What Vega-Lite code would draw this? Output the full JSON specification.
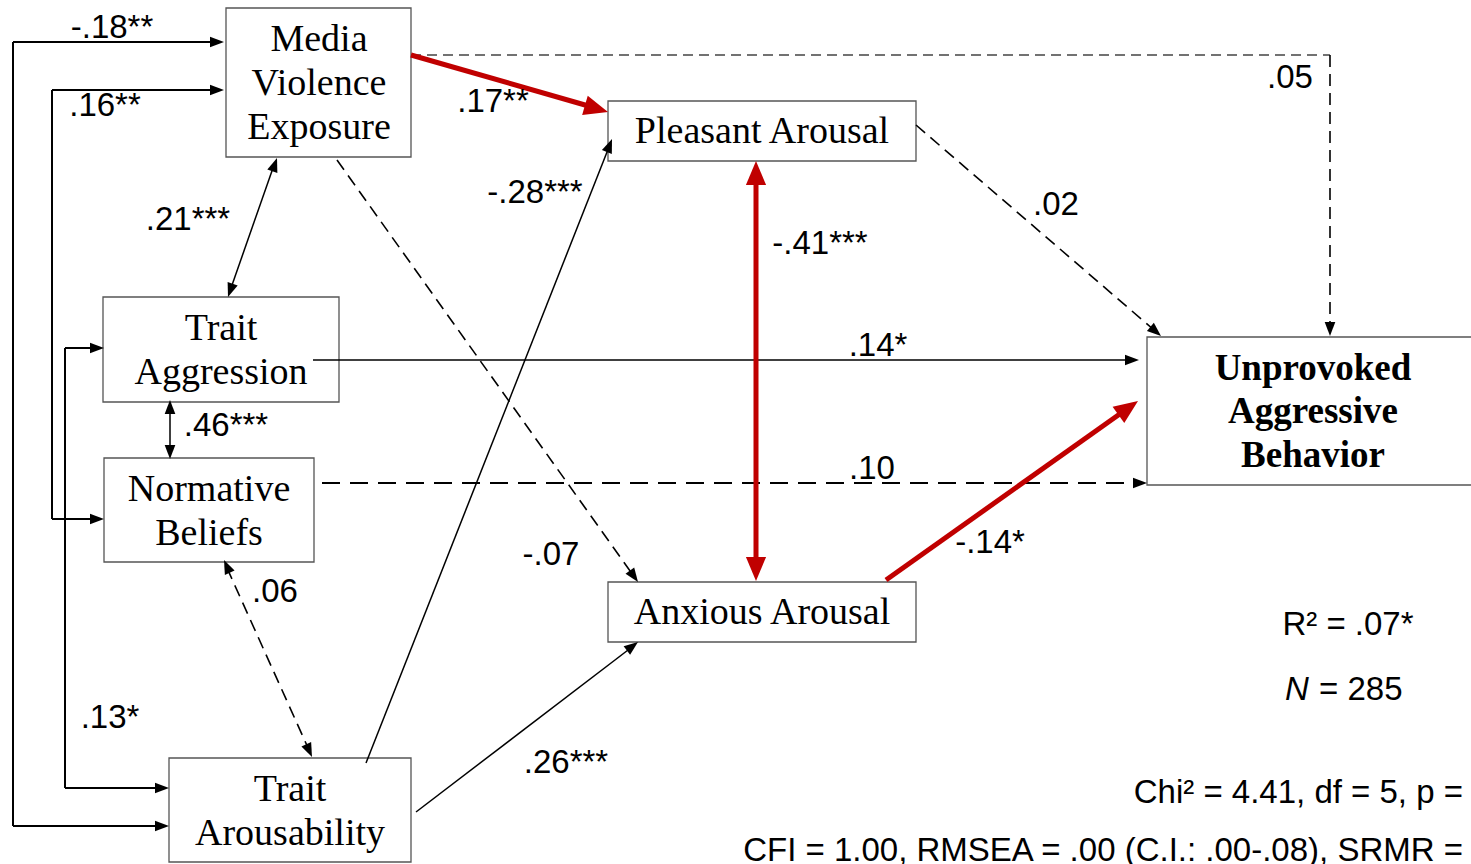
{
  "$schema": "https://vega.github.io/schema/vega-lite/v6.json",
  "width": 1471,
  "height": 864,
  "autosize": "none",
  "padding": 0,
  "background": "white",
  "config": {"view": {"stroke": null}},
  "datasets": {
    "boxes": [
      {"name": "Media Violence Exposure", "x": 226, "x2": 411, "y": 8, "y2": 157},
      {"name": "Pleasant Arousal", "x": 608, "x2": 916, "y": 101, "y2": 161},
      {"name": "Trait Aggression", "x": 103, "x2": 339, "y": 297, "y2": 402},
      {"name": "Normative Beliefs", "x": 104, "x2": 314, "y": 458, "y2": 562},
      {"name": "Trait Arousability", "x": 169, "x2": 411, "y": 758, "y2": 862},
      {"name": "Anxious Arousal", "x": 608, "x2": 916, "y": 582, "y2": 642},
      {"name": "Unprovoked Aggressive Behavior", "x": 1147, "x2": 1490, "y": 337, "y2": 485}
    ],
    "edges": [
      {"kind": "solid", "x": 13, "y": 42, "x2": 13, "y2": 826},
      {"kind": "solid", "x": 13, "y": 42, "x2": 214, "y2": 42},
      {"kind": "solid", "x": 13, "y": 826, "x2": 160, "y2": 826},
      {"kind": "solid", "x": 52, "y": 90, "x2": 52, "y2": 519},
      {"kind": "solid", "x": 52, "y": 90, "x2": 214, "y2": 90},
      {"kind": "solid", "x": 52, "y": 519, "x2": 95, "y2": 519},
      {"kind": "solid", "x": 65, "y": 348, "x2": 65, "y2": 788},
      {"kind": "solid", "x": 65, "y": 348, "x2": 95, "y2": 348},
      {"kind": "solid", "x": 65, "y": 788, "x2": 160, "y2": 788},
      {"kind": "thin", "x": 273, "y": 168, "x2": 231, "y2": 288},
      {"kind": "thin", "x": 170, "y": 410, "x2": 170, "y2": 450},
      {"kind": "thin", "x": 366, "y": 763, "x2": 609, "y2": 147},
      {"kind": "thin", "x": 416, "y": 812, "x2": 632, "y2": 647},
      {"kind": "thin", "x": 313, "y": 360, "x2": 1130, "y2": 360},
      {"kind": "dashgray", "x": 411, "y": 55, "x2": 1330, "y2": 55},
      {"kind": "dash", "x": 1330, "y": 55, "x2": 1330, "y2": 326},
      {"kind": "dash", "x": 337, "y": 160, "x2": 633, "y2": 575},
      {"kind": "dash", "x": 916, "y": 125, "x2": 1154, "y2": 330},
      {"kind": "dash", "x": 227, "y": 568, "x2": 309, "y2": 750},
      {"kind": "dashlong", "x": 322, "y": 483, "x2": 1138, "y2": 483},
      {"kind": "red", "x": 411, "y": 55, "x2": 592, "y2": 107},
      {"kind": "red", "x": 756, "y": 180, "x2": 756, "y2": 562},
      {"kind": "red", "x": 886, "y": 580, "x2": 1124, "y2": 411}
    ],
    "heads": [
      {"kind": "thin", "x": 224, "y": 42, "angle": 90},
      {"kind": "thin", "x": 224, "y": 90, "angle": 90},
      {"kind": "thin", "x": 104, "y": 348, "angle": 90},
      {"kind": "thin", "x": 104, "y": 519, "angle": 90},
      {"kind": "thin", "x": 169, "y": 788, "angle": 90},
      {"kind": "thin", "x": 169, "y": 826, "angle": 90},
      {"kind": "thin", "x": 277, "y": 158, "angle": 19.4},
      {"kind": "thin", "x": 228, "y": 297, "angle": 199.4},
      {"kind": "thin", "x": 170, "y": 400, "angle": 0},
      {"kind": "thin", "x": 170, "y": 459, "angle": 180},
      {"kind": "thin", "x": 224, "y": 560, "angle": 335.9},
      {"kind": "thin", "x": 312, "y": 757, "angle": 155.9},
      {"kind": "thin", "x": 638, "y": 582, "angle": 144.5},
      {"kind": "thin", "x": 612, "y": 139, "angle": 21.5},
      {"kind": "thin", "x": 638, "y": 642, "angle": 52.6},
      {"kind": "thin", "x": 1161, "y": 336, "angle": 130.7},
      {"kind": "thin", "x": 1330, "y": 336, "angle": 180},
      {"kind": "thin", "x": 1139, "y": 360, "angle": 90},
      {"kind": "thin", "x": 1147, "y": 483, "angle": 90},
      {"kind": "red", "x": 608, "y": 112, "angle": 106.1},
      {"kind": "red", "x": 756, "y": 161, "angle": 0},
      {"kind": "red", "x": 756, "y": 581, "angle": 180},
      {"kind": "red", "x": 1138, "y": 401, "angle": 54.6}
    ],
    "texts": [
      {"kind": "coef", "x": 112, "y": 28, "text": "-.18**"},
      {"kind": "coef", "x": 105, "y": 106, "text": ".16**"},
      {"kind": "coef", "x": 188, "y": 220, "text": ".21***"},
      {"kind": "coef", "x": 226, "y": 426, "text": ".46***"},
      {"kind": "coef", "x": 275, "y": 592, "text": ".06"},
      {"kind": "coef", "x": 110, "y": 718, "text": ".13*"},
      {"kind": "coef", "x": 493, "y": 102, "text": ".17**"},
      {"kind": "coef", "x": 535, "y": 193, "text": "-.28***"},
      {"kind": "coef", "x": 551, "y": 555, "text": "-.07"},
      {"kind": "coef", "x": 566, "y": 763, "text": ".26***"},
      {"kind": "coef", "x": 820, "y": 244, "text": "-.41***"},
      {"kind": "coef", "x": 1056, "y": 205, "text": ".02"},
      {"kind": "coef", "x": 1290, "y": 78, "text": ".05"},
      {"kind": "coef", "x": 878, "y": 346, "text": ".14*"},
      {"kind": "coef", "x": 872, "y": 469, "text": ".10"},
      {"kind": "coef", "x": 990, "y": 543, "text": "-.14*"},
      {"kind": "coef", "x": 1348, "y": 625, "text": "R² = .07*"},
      {"kind": "italic", "x": 1297, "y": 690, "text": "N"},
      {"kind": "coefleft", "x": 1319, "y": 690, "text": "= 285"},
      {"kind": "right", "x": 1463, "y": 793, "text": "Chi² = 4.41, df = 5, p ="},
      {"kind": "right", "x": 1463, "y": 851, "text": "CFI = 1.00, RMSEA = .00 (C.I.: .00-.08), SRMR ="},
      {"kind": "serif", "x": 319, "y": 40, "text": "Media"},
      {"kind": "serif", "x": 319, "y": 84, "text": "Violence"},
      {"kind": "serif", "x": 319, "y": 128, "text": "Exposure"},
      {"kind": "serif", "x": 762, "y": 132, "text": "Pleasant Arousal"},
      {"kind": "serif", "x": 221, "y": 329, "text": "Trait"},
      {"kind": "serif", "x": 221, "y": 373, "text": "Aggression"},
      {"kind": "serif", "x": 209, "y": 490, "text": "Normative"},
      {"kind": "serif", "x": 209, "y": 534, "text": "Beliefs"},
      {"kind": "serif", "x": 290, "y": 790, "text": "Trait"},
      {"kind": "serif", "x": 290, "y": 834, "text": "Arousability"},
      {"kind": "serif", "x": 762, "y": 613, "text": "Anxious Arousal"},
      {"kind": "bold", "x": 1313, "y": 369, "text": "Unprovoked"},
      {"kind": "bold", "x": 1313, "y": 412, "text": "Aggressive"},
      {"kind": "bold", "x": 1313, "y": 456, "text": "Behavior"}
    ]
  },
  "encoding": {
    "x": {"field": "x", "type": "quantitative", "scale": {"domain": [0, 1471], "nice": false, "zero": false}, "axis": null},
    "y": {"field": "y", "type": "quantitative", "scale": {"domain": [0, 864], "nice": false, "zero": false, "reverse": true}, "axis": null}
  },
  "layer": [
    {
      "data": {"name": "boxes"},
      "mark": {"type": "rect", "fill": "white", "stroke": "#555555", "strokeWidth": 1.3},
      "encoding": {"x2": {"field": "x2"}, "y2": {"field": "y2"}}
    },
    {
      "data": {"name": "edges"},
      "transform": [{"filter": "datum.kind === 'solid'"}],
      "mark": {"type": "rule", "color": "black", "strokeWidth": 2},
      "encoding": {"x2": {"field": "x2"}, "y2": {"field": "y2"}}
    },
    {
      "data": {"name": "edges"},
      "transform": [{"filter": "datum.kind === 'thin'"}],
      "mark": {"type": "rule", "color": "black", "strokeWidth": 1.5},
      "encoding": {"x2": {"field": "x2"}, "y2": {"field": "y2"}}
    },
    {
      "data": {"name": "edges"},
      "transform": [{"filter": "datum.kind === 'dashgray'"}],
      "mark": {"type": "rule", "color": "#444444", "strokeWidth": 1.5, "strokeDash": [10, 6]},
      "encoding": {"x2": {"field": "x2"}, "y2": {"field": "y2"}}
    },
    {
      "data": {"name": "edges"},
      "transform": [{"filter": "datum.kind === 'dash'"}],
      "mark": {"type": "rule", "color": "black", "strokeWidth": 1.6, "strokeDash": [12, 7]},
      "encoding": {"x2": {"field": "x2"}, "y2": {"field": "y2"}}
    },
    {
      "data": {"name": "edges"},
      "transform": [{"filter": "datum.kind === 'dashlong'"}],
      "mark": {"type": "rule", "color": "black", "strokeWidth": 2, "strokeDash": [18, 10]},
      "encoding": {"x2": {"field": "x2"}, "y2": {"field": "y2"}}
    },
    {
      "data": {"name": "edges"},
      "transform": [{"filter": "datum.kind === 'red'"}],
      "mark": {"type": "rule", "color": "#c00000", "strokeWidth": 5},
      "encoding": {"x2": {"field": "x2"}, "y2": {"field": "y2"}}
    },
    {
      "data": {"name": "heads"},
      "transform": [{"filter": "datum.kind === 'thin'"}],
      "mark": {"type": "point", "shape": "M0,0L-0.38,1L0.38,1Z", "size": 784, "filled": true, "opacity": 1, "color": "black", "strokeWidth": 0},
      "encoding": {"angle": {"field": "angle", "type": "quantitative", "scale": null}}
    },
    {
      "data": {"name": "heads"},
      "transform": [{"filter": "datum.kind === 'red'"}],
      "mark": {"type": "point", "shape": "M0,0L-0.42,1L0.42,1Z", "size": 2304, "filled": true, "opacity": 1, "color": "#c00000", "strokeWidth": 0},
      "encoding": {"angle": {"field": "angle", "type": "quantitative", "scale": null}}
    },
    {
      "data": {"name": "texts"},
      "transform": [{"filter": "datum.kind === 'coef'"}],
      "mark": {"type": "text", "font": "Liberation Sans", "fontSize": 33, "color": "black", "align": "center", "baseline": "middle"},
      "encoding": {"text": {"field": "text"}}
    },
    {
      "data": {"name": "texts"},
      "transform": [{"filter": "datum.kind === 'coefleft'"}],
      "mark": {"type": "text", "font": "Liberation Sans", "fontSize": 33, "color": "black", "align": "left", "baseline": "middle"},
      "encoding": {"text": {"field": "text"}}
    },
    {
      "data": {"name": "texts"},
      "transform": [{"filter": "datum.kind === 'italic'"}],
      "mark": {"type": "text", "font": "Liberation Sans", "fontSize": 33, "fontStyle": "italic", "color": "black", "align": "center", "baseline": "middle"},
      "encoding": {"text": {"field": "text"}}
    },
    {
      "data": {"name": "texts"},
      "transform": [{"filter": "datum.kind === 'right'"}],
      "mark": {"type": "text", "font": "Liberation Sans", "fontSize": 33, "color": "black", "align": "right", "baseline": "middle"},
      "encoding": {"text": {"field": "text"}}
    },
    {
      "data": {"name": "texts"},
      "transform": [{"filter": "datum.kind === 'serif'"}],
      "mark": {"type": "text", "font": "Liberation Serif", "fontSize": 38, "color": "black", "align": "center", "baseline": "middle"},
      "encoding": {"text": {"field": "text"}}
    },
    {
      "data": {"name": "texts"},
      "transform": [{"filter": "datum.kind === 'bold'"}],
      "mark": {"type": "text", "font": "Liberation Serif", "fontSize": 37, "fontWeight": "bold", "color": "black", "align": "center", "baseline": "middle"},
      "encoding": {"text": {"field": "text"}}
    }
  ]
}
